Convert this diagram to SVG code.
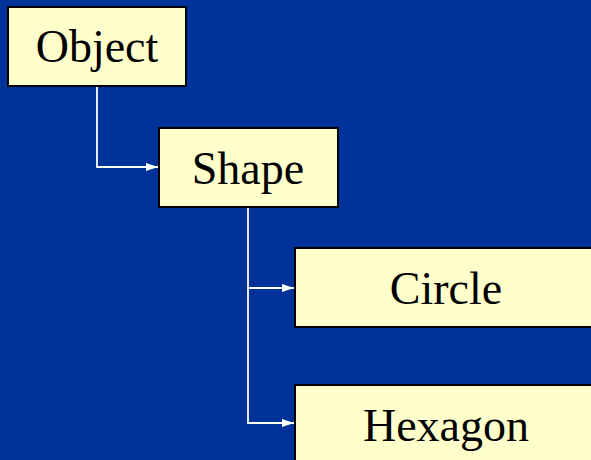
<svg xmlns="http://www.w3.org/2000/svg" width="591" height="460" viewBox="0 0 591 460">
<style>
.box{fill:#FFFFCC;stroke:#000;stroke-width:2}
.lbl{font-family:"Liberation Serif","Times New Roman",serif;font-size:46px;fill:#000;text-anchor:middle}
.con{fill:none;stroke:#fff;stroke-width:1.8}
</style>
<defs>
<marker id="ah" viewBox="0 0 10 10" refX="10" refY="5" markerWidth="12" markerHeight="8" markerUnits="userSpaceOnUse" orient="auto" preserveAspectRatio="none">
<path d="M0,0 L10,5 L0,10 z" fill="#fff"/>
</marker>
</defs>
<rect width="591" height="460" fill="#003399"/>
<g id="connectors">
<path class="con" d="M97,86 V167 H158" marker-end="url(#ah)"/>
<path class="con" d="M248,207 V288 H294" marker-end="url(#ah)"/>
<path class="con" d="M248,288 V423 H294" marker-end="url(#ah)"/>
</g>
<g id="object">
<rect class="box" x="8" y="7" width="178" height="79"/>
<text class="lbl" x="97" y="62">Object</text>
</g>
<g id="shape">
<rect class="box" x="159" y="128" width="179" height="79"/>
<text class="lbl" x="248" y="184">Shape</text>
</g>
<g id="circle">
<rect class="box" x="295" y="248" width="302" height="79"/>
<text class="lbl" x="446" y="304">Circle</text>
</g>
<g id="hexagon">
<rect class="box" x="295" y="385" width="302" height="79"/>
<text class="lbl" x="446" y="441">Hexagon</text>
</g>
</svg>
